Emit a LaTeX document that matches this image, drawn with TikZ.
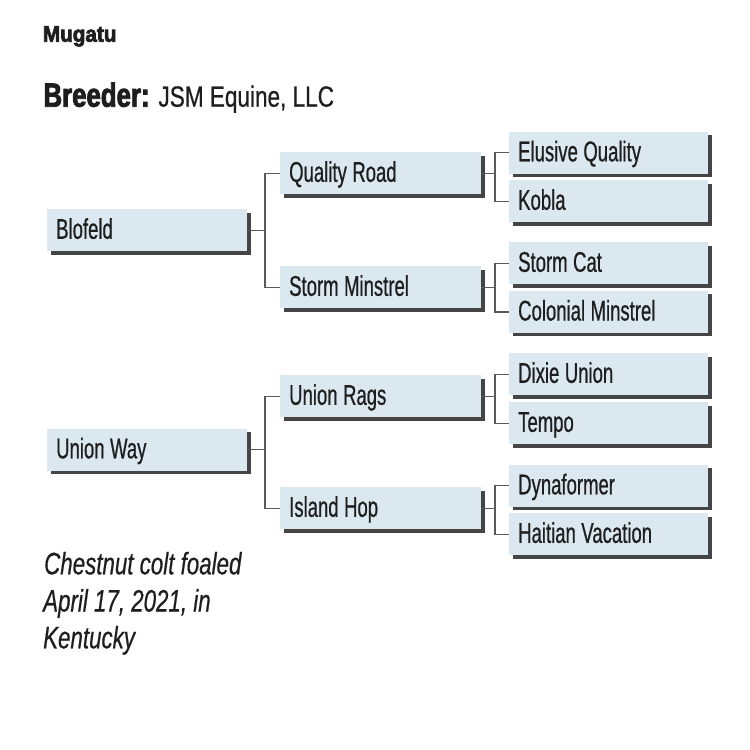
\documentclass[tikz,border=0pt]{standalone}
\usepackage{fontspec}
\setmainfont{Liberation Sans}
\newfontfamily\lblfont{Liberation Sans}[FakeStretch=0.65, FakeBold=0.6]
\newfontfamily\jsmfont{Liberation Sans}[FakeStretch=0.77, FakeBold=0.5]
\newfontfamily\mugfont{Liberation Sans Bold}[FakeStretch=0.92, FakeBold=3]
\newfontfamily\brdfont{Liberation Sans Bold}[FakeStretch=0.77, FakeBold=2.5]
\newfontfamily\notefont{Liberation Sans Italic}[FakeStretch=0.72, FakeBold=0.5]
\usetikzlibrary{shadows}
\definecolor{boxblue}{HTML}{DCE8EF}
\definecolor{shadowgray}{HTML}{454545}
\definecolor{linegray}{HTML}{5A5A5A}
\definecolor{inkblack}{HTML}{1E1E1E}
\begin{document}
\begin{tikzpicture}[x=1pt,y=-1pt,
  box/.style={rectangle, fill=boxblue, anchor=north west, align=left,
    inner xsep=9pt, inner ysep=8pt, text height=21.6pt, text depth=4.4pt,
    font=\lblfont\fontsize{28.5}{30}\selectfont,
    execute at begin node={\spaceskip=5.5pt\relax},
    text=inkblack,
    general shadow={fill=shadowgray, shadow xshift=3.5pt, shadow yshift=-3.5pt}},
  lvla/.style={box, text width=182pt},
  lvlb/.style={box, text width=183pt},
  lvlc/.style={box, text width=181pt},
  conn/.style={draw=linegray, line width=1.2pt},
  plain/.style={inner sep=0pt, anchor=base west, text=inkblack}]
\fill[white] (0,0) rectangle (750,750);
\useasboundingbox (0,0) rectangle (750,750);

% titles
\node[plain, font=\mugfont\fontsize{22.5}{24}\selectfont] (title) at (42.7,41.7) {Mugatu};
\node[plain, font=\brdfont\fontsize{33.5}{36}\selectfont] (breeder) at (43.3,106.7) {Breeder:};
\node[plain, font=\jsmfont\fontsize{29.3}{32}\selectfont] (jsm) at (158.3,106.7) {JSM Equine, LLC};

% level 1
\node[lvla] (blofeld) at (47,209) {Blofeld};
\node[lvla] (unionway) at (47,428.5) {Union Way};

% level 2
\node[lvlb] (qr) at (280,152) {Quality Road};
\node[lvlb] (sm) at (280,266) {Storm Minstrel};
\node[lvlb] (ur) at (280,375) {Union Rags};
\node[lvlb] (ih) at (280,487) {Island Hop};

% level 3
\node[lvlc] (eq) at (509,131.5) {Elusive Quality};
\node[lvlc] (kobla) at (509,180) {Kobla};
\node[lvlc] (stormcat) at (509,242) {Storm Cat};
\node[lvlc] (colonial) at (509,290.7) {Colonial Minstrel};
\node[lvlc] (dixie) at (509,353) {Dixie Union};
\node[lvlc] (tempo) at (509,402) {Tempo};
\node[lvlc] (dyna) at (509,464.5) {Dynaformer};
\node[lvlc] (haitian) at (509,513) {Haitian Vacation};

% connectors level 1 -> 2
\draw[conn] (qr.west) -- ++(-15,0) coordinate (va) |- (sm.west);
\draw[conn] (blofeld.east) -- (blofeld.east -| va);
\draw[conn] (ur.west) -- ++(-15,0) coordinate (vb) |- (ih.west);
\draw[conn] (unionway.east) -- (unionway.east -| vb);

% connectors level 2 -> 3
\draw[conn] (eq.west) -- ++(-14,0) coordinate (vc) |- (kobla.west);
\draw[conn] (qr.east) -- (qr.east -| vc);
\draw[conn] (stormcat.west) -- ++(-14,0) coordinate (vd) |- (colonial.west);
\draw[conn] (sm.east) -- (sm.east -| vd);
\draw[conn] (dixie.west) -- ++(-14,0) coordinate (ve) |- (tempo.west);
\draw[conn] (ur.east) -- (ur.east -| ve);
\draw[conn] (dyna.west) -- ++(-14,0) coordinate (vf) |- (haitian.west);
\draw[conn] (ih.east) -- (ih.east -| vf);

% note
\node[plain, font=\notefont\fontsize{31}{37}\selectfont] (note1) at (44,574.3) {Chestnut colt foaled};
\node[plain, font=\notefont\fontsize{31}{37}\selectfont] (note2) at (43,611.5) {April 17, 2021, in};
\node[plain, font=\notefont\fontsize{31}{37}\selectfont] (note3) at (43,648.3) {Kentucky};
\end{tikzpicture}
\end{document}
